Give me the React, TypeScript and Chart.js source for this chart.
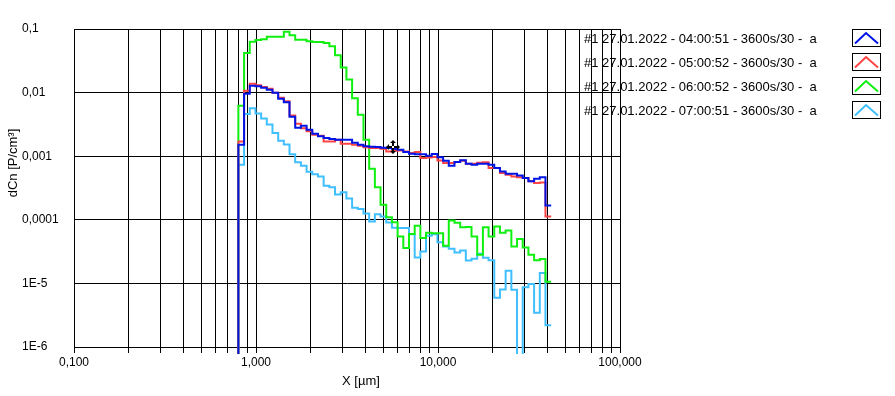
import React, { useEffect, useRef } from "react";
import { Chart, registerables } from "chart.js";

Chart.register(...registerables);

// Channel edges (µm) read from the step positions
const BIN_EDGES = [
  0.8, 0.86, 0.924, 0.993, 1.067, 1.146, 1.232, 1.324, 1.422, 1.528,
  1.642, 1.765, 1.896, 2.038, 2.19, 2.353, 2.53, 2.718, 2.921, 3.139,
  3.373, 3.625, 3.895, 4.186, 4.499, 4.834, 5.195, 5.583, 5.999, 6.447,
  6.928, 7.445, 8.0, 8.597, 9.238, 9.928, 10.67, 11.46, 12.32, 13.24,
  14.22, 15.28, 16.42, 17.65, 18.96, 20.38, 21.9, 23.53, 25.3, 27.18,
  29.21, 31.39, 33.73, 36.25, 38.95, 41.86,
];

const SERIES_LABELS = [
  "#1 27.01.2022 - 04:00:51 - 3600s/30 -  a",
  "#1 27.01.2022 - 05:00:52 - 3600s/30 -  a",
  "#1 27.01.2022 - 06:00:52 - 3600s/30 -  a",
  "#1 27.01.2022 - 07:00:51 - 3600s/30 -  a",
];

const SERIES_COLORS = ["#0014E6", "#FF4444", "#10F010", "#40BFFF"];

const S1_0400 = [
  0.00152, 0.0096, 0.0128, 0.0126, 0.0119, 0.0111, 0.00996, 0.00802, 0.00706, 0.00418,
  0.00281, 0.00302, 0.00261, 0.00226, 0.00206, 0.00193, 0.00186, 0.00182, 0.00182, 0.00182,
  0.00163, 0.00152, 0.00144, 0.00141, 0.0014, 0.00136, 0.00134, 0.0013, 0.00126, 0.00116,
  0.00109, 0.00107, 0.00107, 0.00102, 0.00108, 0.000964, 0.00085, 0.000709, 0.000811, 0.000865,
  0.000762, 0.000735, 0.000762, 0.000762, 0.000735, 0.000652, 0.000577, 0.000531, 0.000531, 0.000499,
  0.000454, 0.000402, 0.000443, 0.000465, 0.000168,
];

const S2_0500 = [
  0.00171, 0.0107, 0.0138, 0.0131, 0.0122, 0.0115, 0.00996, 0.00832, 0.00733, 0.00438,
  0.00324, 0.00276, 0.00247, 0.00218, 0.0021, 0.00171, 0.00171, 0.00182, 0.00157, 0.00157,
  0.00152, 0.00146, 0.00138, 0.00135, 0.00135, 0.00131, 0.00119, 0.00122, 0.00123, 0.00119,
  0.00112, 0.00116, 0.000937, 0.000957, 0.000971, 0.000859, 0.000782, 0.000782, 0.000811, 0.00085,
  0.000762, 0.000762, 0.000791, 0.0008, 0.000652, 0.000652, 0.000544, 0.000512, 0.000481, 0.000465,
  0.000454, 0.000402, 0.000379, 0.000387, 0.000113,
];

const S3_0600 = [
  0.00622, 0.042, 0.0631, 0.0671, 0.0691, 0.0757, 0.0757, 0.0757, 0.0907, 0.0799,
  0.0679, 0.0679, 0.0643, 0.0625, 0.0625, 0.0603, 0.0537, 0.0387, 0.0249, 0.016,
  0.00817, 0.0045, 0.00182, 0.000635, 0.000326, 0.000173, 0.00011, 0.0000916, 0.0000548, 0.0000361,
  0.0000598, 0.0000807, 0.0000518, 0.0000627, 0.0000615, 0.0000615, 0.0000392, 0.0000979, 0.00009, 0.0000766,
  0.0000769, 0.0000548, 0.0000283, 0.0000766, 0.0000548, 0.0000787, 0.0000627, 0.0000681, 0.0000382, 0.0000499,
  0.0000368, 0.0000283, 0.0000232, 0.0000242, 0.0000106,
];

const S4_0700 = [
  0.000736, 0.00462, 0.00565, 0.00471, 0.00393, 0.00316, 0.00232, 0.00175, 0.00153, 0.00107,
  0.0008, 0.000709, 0.00057, 0.000521, 0.000481, 0.000344, 0.000326, 0.000251, 0.00027, 0.000217,
  0.000155, 0.000148, 0.000126, 0.0000944, 0.000122, 0.000113, 0.000091, 0.0000752, 0.0000743, 0.0000743,
  0.0000594, 0.0000256, 0.0000318, 0.0000562, 0.0000594, 0.0000442, 0.0000382, 0.0000352, 0.0000307, 0.000033,
  0.000023, 0.0000244, 0.0000293, 0.0000254, 0.0000232, 0.00000596, 0.00000805, 0.0000158, 0.00000796, 0,
  0.00000871, 0.00000979, 0.00000346, 0.0000146, 0.00000219,
];

const SERIES_VALUES = [S1_0400, S2_0500, S3_0600, S4_0700];

const X_DECADES = [0.1, 1, 10];
const X_MULTS = [1, 2, 3, 4, 5, 6, 7, 8, 9];
const X_MAJOR = [0.1, 1, 10, 100];
const X_TICK_LABELS = ["0,100", "1,000", "10,000", "100,000"];
const Y_MAJOR = [0.1, 0.01, 0.001, 0.0001, 0.00001, 0.000001];
const Y_TICK_LABELS = ["0,1", "0,01", "0,001", "0,0001", "1E-5", "1E-6"];

const CURSOR_X = 5.65;
const CURSOR_Y = 0.00138;

const FLOOR = 7e-7; // where zero counts are drawn (below the axis)
const FONT = '"Liberation Sans", Arial, sans-serif';

function buildPoints(values: number[]) {
  const pts: { x: number; y: number }[] = [{ x: BIN_EDGES[0], y: FLOOR }];
  values.forEach((v, i) => pts.push({ x: BIN_EDGES[i], y: v === 0 ? FLOOR : v }));
  const last = values[values.length - 1];
  pts.push({ x: BIN_EDGES[values.length], y: last === 0 ? FLOOR : last });
  return pts;
}

const decorPlugin = {
  id: "decor",
  afterDraw(chart: any) {
    const ctx = chart.ctx as CanvasRenderingContext2D;
    const xs = chart.scales.x;
    const ys = chart.scales.y;
    ctx.save();
    ctx.fillStyle = "#000";
    ctx.font = `12px ${FONT}`;
    // y tick labels
    ctx.textAlign = "left";
    ctx.textBaseline = "middle";
    Y_MAJOR.forEach((v, i) => {
      ctx.fillText(Y_TICK_LABELS[i], 22, ys.getPixelForValue(v));
    });
    // x tick labels
    ctx.textAlign = "center";
    X_MAJOR.forEach((v, i) => {
      ctx.fillText(X_TICK_LABELS[i], xs.getPixelForValue(v), 363);
    });
    // axis titles
    ctx.font = `13px ${FONT}`;
    ctx.fillText("X [µm]", 361, 381);
    ctx.save();
    ctx.translate(13, 163);
    ctx.rotate(-Math.PI / 2);
    ctx.fillText("dCn [P/cm³]", 0, 0);
    ctx.restore();

    // cursor marker
    const cx = Math.round(xs.getPixelForValue(CURSOR_X));
    const cy = Math.round(ys.getPixelForValue(CURSOR_Y));
    ctx.strokeStyle = "#000";
    ctx.fillStyle = "#000";
    ctx.lineWidth = 2;
    ctx.beginPath();
    ctx.moveTo(cx - 6, cy);
    ctx.lineTo(cx + 6, cy);
    ctx.moveTo(cx, cy - 6);
    ctx.lineTo(cx, cy + 6);
    ctx.stroke();
    ctx.beginPath();
    ctx.moveTo(cx - 7, cy); ctx.lineTo(cx - 4, cy - 3); ctx.lineTo(cx - 4, cy + 3); ctx.closePath();
    ctx.moveTo(cx + 7, cy); ctx.lineTo(cx + 4, cy - 3); ctx.lineTo(cx + 4, cy + 3); ctx.closePath();
    ctx.moveTo(cx, cy - 7); ctx.lineTo(cx - 3, cy - 4); ctx.lineTo(cx + 3, cy - 4); ctx.closePath();
    ctx.moveTo(cx, cy + 7); ctx.lineTo(cx - 3, cy + 4); ctx.lineTo(cx + 3, cy + 4); ctx.closePath();
    ctx.fill();
    ctx.fillStyle = "#fff";
    ctx.fillRect(cx - 1, cy - 1, 2, 2);

    // legend
    ctx.font = `13px ${FONT}`;
    ctx.textAlign = "left";
    ctx.textBaseline = "middle";
    SERIES_LABELS.forEach((label, i) => {
      const top = 29.5 + 24 * i;
      ctx.fillStyle = "#000";
      ctx.fillText(label, 584, top + 9.5);
      ctx.strokeStyle = "#000";
      ctx.lineWidth = 1;
      ctx.strokeRect(852.5, top, 28, 17);
      ctx.strokeStyle = SERIES_COLORS[i];
      ctx.lineWidth = 2;
      ctx.beginPath();
      ctx.moveTo(855, top + 14);
      ctx.lineTo(866, top + 3.5);
      ctx.lineTo(878, top + 14);
      ctx.stroke();
    });
    ctx.restore();
  },
};

export default function App() {
  const ref = useRef<HTMLCanvasElement | null>(null);

  useEffect(() => {
    if (!ref.current) return;
    const xGrid: number[] = [];
    X_DECADES.forEach((d) => X_MULTS.forEach((m) => xGrid.push(+(d * m).toPrecision(3))));
    xGrid.push(100);

    const chart = new Chart(ref.current, {
      type: "line",
      data: {
        datasets: SERIES_VALUES.map((vals, i) => ({
          label: SERIES_LABELS[i],
          data: buildPoints(vals),
          borderColor: SERIES_COLORS[i],
          backgroundColor: SERIES_COLORS[i],
          borderWidth: 2,
          pointRadius: 0,
          pointHoverRadius: 0,
          fill: false,
          tension: 0,
          stepped: "before" as const,
          borderJoinStyle: "miter" as const,
          clip: { left: 0, top: 0, right: 0, bottom: 7 } as any,
        })),
      },
      options: {
        animation: false,
        responsive: false,
        devicePixelRatio: 1,
        events: [],
        layout: { padding: { top: 29, left: 74, right: 275, bottom: 43 } },
        plugins: {
          legend: { display: false },
          tooltip: { enabled: false },
          title: { display: false },
        },
        scales: {
          x: {
            type: "logarithmic",
            min: 0.1,
            max: 100,
            afterBuildTicks: (s: any) => {
              s.ticks = xGrid.map((v) => ({ value: v }));
            },
            afterFit: (s: any) => {
              s.height = 6;
            },
            ticks: { display: false },
            grid: {
              color: "#000",
              lineWidth: 1,
              drawTicks: true,
              tickLength: 6,
              tickColor: "#000",
            },
            border: { display: true, color: "#000", width: 1 },
          },
          y: {
            type: "logarithmic",
            min: 0.000001,
            max: 0.1,
            afterBuildTicks: (s: any) => {
              s.ticks = Y_MAJOR.map((v) => ({ value: v }));
            },
            afterFit: (s: any) => {
              s.width = 0;
            },
            ticks: { display: false },
            grid: { color: "#000", lineWidth: 1, drawTicks: false },
            border: { display: true, color: "#000", width: 1 },
          },
        },
      },
      plugins: [decorPlugin],
    });
    return () => chart.destroy();
  }, []);

  return (
    <div style={{ position: "absolute", left: 0, top: 0, width: 895, height: 396, background: "#fff" }}>
      <canvas ref={ref} width={895} height={396} />
    </div>
  );
}
